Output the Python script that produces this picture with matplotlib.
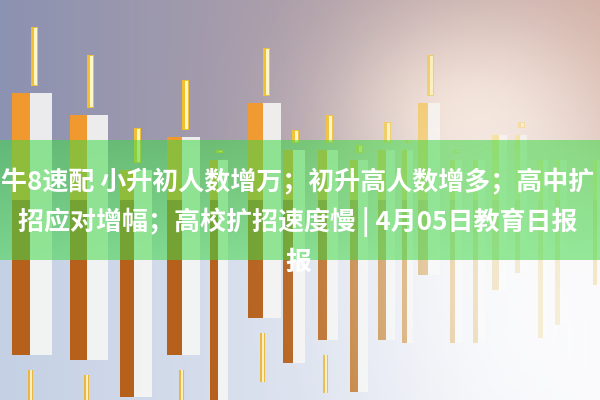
import numpy as np
import matplotlib
matplotlib.use("Agg")
import matplotlib.pyplot as plt

plt.rcParams['font.family'] = ['Noto Sans CJK SC', 'DejaVu Sans']

# 标题文字
title_lines = ["牛8速配 小升初人数增万；初升高人数增多；高中扩",
               "招应对增幅；高校扩招速度慢 | 4月05日教育日报",
               "报"]

# 蜡烛 (位置 x, 宽度, 实体上沿, 实体下沿, 最高, 最低)  价格: 0=底部, 400=顶部
candle_x   = [12, 70, 120, 167, 210, 248, 283, 318, 350, 378, 402, 418, 450, 473, 492, 515, 538, 555, 593]
candle_w   = [40, 38, 32, 33, 18, 33, 22, 20, 18, 17, 11, 22, 12, 12, 15, 12, 10, 12, 8]
body_top   = [307, 285, 230, 263, 240, 297, 250, 250, 240, 250, 250, 297, 240, 240, 265, 265, 240, 240, 240]
body_bot   = [45, 40, 3, 45, 0, 82, 37, 60, 8, 60, 57, 125, 57, 57, 110, 127, 62, 75, 115]
high       = [373, 345, 272, 320, 250, 352, 270, 285, 255, 278, 260, 345, 250, 240, 270, 278, 240, 240, 240]
low        = [-10, -10, 3, -10, 0, 18, 37, 7, 8, 60, 57, 125, 57, 57, 110, 127, 62, 75, 115]

W, H = 600, 400
fig = plt.figure(figsize=(6, 4), dpi=100)
ax = fig.add_axes([0, 0, 1, 1])
ax.set_xlim(0, W)
ax.set_ylim(0, H)
ax.axis('off')

# 背景渐变
xx, yy = np.meshgrid(np.linspace(0, 1, W), np.linspace(1, 0, H))  # yy: 1=top
top_l = np.array([140, 146, 178]) / 255
top_r = np.array([205, 170, 160]) / 255
bot_l = np.array([196, 208, 228]) / 255
bot_r = np.array([246, 246, 250]) / 255
t = np.clip((yy - 0.35) / 0.3, 0, 1)[..., None]
top = top_l * (1 - xx[..., None]) + top_r * xx[..., None]
bot = bot_l * (1 - xx[..., None]) + bot_r * xx[..., None]
bg = top * t + bot * (1 - t)
gx, gy = 0.78, 0.72
glow = np.exp(-(((xx - gx) / 0.22) ** 2 + ((yy - gy) / 0.25) ** 2))[..., None]
bg = bg * (1 - 0.75 * glow) + np.array([1.0, 0.92, 0.85]) * 0.75 * glow
ax.imshow(bg, extent=[0, W, 0, H], aspect='auto', zorder=0)

# 蜡烛
gap_top, gap_bot = 7, 15
for x, w, bt, bb, hi, lo in zip(candle_x, candle_w, body_top, body_bot, high, low):
    k = np.clip((x - 300) / 250, 0, 1)
    alpha = 1 - 0.45 * k
    left_w = w * 0.45
    up_col = (0.94, 0.60 + 0.25 * k, 0.18)
    lo_col = (0.71 + 0.15 * k, 0.38 + 0.3 * k, 0.11 + 0.05 * k)
    split = 200
    # 左侧面
    if bt > split:
        ax.bar(x, bt - max(bb, split), bottom=max(bb, split), width=left_w, align='edge',
               color=up_col, alpha=alpha, zorder=2, linewidth=0)
    if bb < split:
        ax.bar(x, min(bt, split) - bb, bottom=bb, width=left_w, align='edge',
               color=lo_col, alpha=alpha, zorder=2, linewidth=0)
    # 右侧面
    ax.bar(x + left_w, bt - bb, bottom=bb, width=w - left_w, align='edge',
           color='#f6f6f4', alpha=0.9 * alpha, zorder=2, linewidth=0)
    # 上影线
    cx = x + w * 0.55
    if hi - bt > gap_top:
        ax.bar(cx, hi - bt - gap_top, bottom=bt + gap_top, width=7, color='#f0c030',
               alpha=alpha, zorder=2, linewidth=0)
        ax.bar(cx + 1, hi - bt - gap_top - 2, bottom=bt + gap_top + 1, width=3,
               color='#fff6c8', alpha=alpha, zorder=3, linewidth=0)
    # 下影线
    if bb - lo > gap_bot:
        ax.bar(cx - 4, bb - gap_bot - lo, bottom=lo, width=5, color='#e8b840',
               alpha=alpha, zorder=2, linewidth=0)
        ax.bar(cx - 3.5, bb - gap_bot - lo, bottom=lo, width=2, color='#fbeec0',
               alpha=alpha, zorder=3, linewidth=0)

# 右侧光晕
haze = np.zeros((H, W, 4))
haze[..., :3] = 1.0
haze[..., 3] = 0.6 * np.exp(-(((xx - 0.85) / 0.25) ** 2 + ((yy - 0.4) / 0.45) ** 2)) \
    + 0.35 * np.exp(-(((xx - 0.95) / 0.25) ** 2 + ((yy - 0.0) / 0.3) ** 2))
haze[..., 3] = np.clip(haze[..., 3], 0, 0.8)
ax.imshow(haze, extent=[0, W, 0, H], aspect='auto', zorder=4)

# 绿色横条
ax.axhspan(140, 260, color=(0.25, 0.85, 0.28), alpha=0.55, zorder=5, linewidth=0)

for line, y in zip(title_lines, [218, 178, 138]):
    ax.text(W / 2 - 2, y, line, ha='center', va='center', color='white',
            fontsize=18.7, fontweight='bold', zorder=6)

fig.savefig("out.png", dpi=100)
